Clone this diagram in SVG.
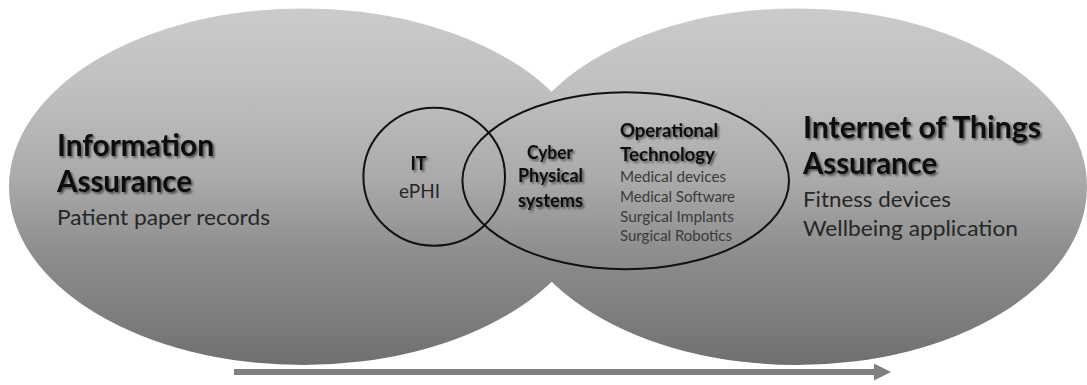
<svg xmlns="http://www.w3.org/2000/svg" width="1087" height="385" viewBox="0 0 1087 385">
  <defs>
    <linearGradient id="grayGrad" x1="0" y1="0" x2="0" y2="1">
      <stop offset="0" stop-color="#cbcbcb"/>
      <stop offset="0.22" stop-color="#c0c0c0"/>
      <stop offset="0.48" stop-color="#aaaaaa"/>
      <stop offset="0.68" stop-color="#8e8e8e"/>
      <stop offset="0.9" stop-color="#7a7a7a"/>
      <stop offset="1" stop-color="#6f6f6f"/>
    </linearGradient>
    <filter id="shadow" x="-10%" y="-30%" width="125%" height="170%">
      <feDropShadow dx="1.8" dy="1.8" stdDeviation="1.2" flood-color="#000000" flood-opacity="0.55"/>
    </filter>
    <marker id="arrowHead" markerUnits="userSpaceOnUse" markerWidth="18" markerHeight="18" refX="1" refY="8.5" orient="auto">
      <path d="M0,0 L17,8.5 L0,17 Z" fill="#808080"/>
    </marker>
  </defs>
  <style>
    .big { fill: url(#grayGrad); stroke: none; }
    .ring { fill: none; stroke: #111111; stroke-width: 2; }
    .t { font-family: Lato, "Liberation Sans", sans-serif; }
    .h1 { font-size: 29.5px; font-weight: bold; fill: #0d0d0d; filter: url(#shadow); }
    .p1 { font-size: 22px; fill: #262626; }
    .h2 { font-size: 18.4px; font-weight: bold; fill: #0d0d0d; filter: url(#shadow); }
    .p2 { font-size: 19.6px; fill: #262626; }
    .p3 { font-size: 14.8px; fill: #3a3a3a; }
    .hit { font-size: 19.6px; font-weight: bold; fill: #0d0d0d; filter: url(#shadow); }
  </style>

  <g id="information-assurance">
    <ellipse class="big" cx="303" cy="186.7" rx="294" ry="178.3"/>
  </g>
  <g id="iot-assurance">
    <ellipse class="big" cx="797" cy="186.7" rx="290" ry="178.3"/>
  </g>

  <g id="ia-text" class="t">
    <text class="h1" x="57" y="156" textLength="157" lengthAdjust="spacingAndGlyphs">Information</text>
    <text class="h1" x="57" y="192" textLength="135" lengthAdjust="spacingAndGlyphs">Assurance</text>
    <text class="p1" x="57" y="225" textLength="213" lengthAdjust="spacingAndGlyphs">Patient paper records</text>
  </g>

  <g id="iot-text" class="t">
    <text class="h1" x="803" y="137.5" textLength="238" lengthAdjust="spacingAndGlyphs">Internet of Things</text>
    <text class="h1" x="803" y="174" textLength="134" lengthAdjust="spacingAndGlyphs">Assurance</text>
    <text class="p1" x="803" y="207" textLength="148" lengthAdjust="spacingAndGlyphs">Fitness devices</text>
    <text class="p1" x="803" y="236" textLength="215" lengthAdjust="spacingAndGlyphs">Wellbeing application</text>
  </g>

  <g id="it">
    <ellipse class="ring" cx="434.2" cy="176.7" rx="70.8" ry="69"/>
    <text class="t hit" x="410.5" y="170" textLength="16" lengthAdjust="spacingAndGlyphs">IT</text>
    <text class="t p2" x="399" y="198.3" textLength="41" lengthAdjust="spacingAndGlyphs">ePHI</text>
  </g>

  <g id="operational-technology">
    <ellipse class="ring" cx="625.7" cy="180.8" rx="163.3" ry="88.5"/>
    <text class="t h2" x="620" y="137.3" textLength="98" lengthAdjust="spacingAndGlyphs">Operational</text>
    <text class="t h2" x="620" y="161" textLength="95" lengthAdjust="spacingAndGlyphs">Technology</text>
    <text class="t p3" x="620" y="181.7" textLength="106" lengthAdjust="spacingAndGlyphs">Medical devices</text>
    <text class="t p3" x="620" y="201.7" textLength="115" lengthAdjust="spacingAndGlyphs">Medical Software</text>
    <text class="t p3" x="620" y="221.7" textLength="114" lengthAdjust="spacingAndGlyphs">Surgical Implants</text>
    <text class="t p3" x="620" y="241" textLength="112" lengthAdjust="spacingAndGlyphs">Surgical Robotics</text>
  </g>

  <g id="cyber-physical-systems" class="t">
    <text class="h2" x="527" y="159" textLength="46" lengthAdjust="spacingAndGlyphs">Cyber</text>
    <text class="h2" x="518" y="181.7" textLength="65" lengthAdjust="spacingAndGlyphs">Physical</text>
    <text class="h2" x="518" y="206.7" textLength="65" lengthAdjust="spacingAndGlyphs">systems</text>
  </g>

  <g id="connectors">
    <line x1="234" y1="372" x2="875" y2="372" stroke="#808080" stroke-width="6" marker-end="url(#arrowHead)"/>
  </g>
</svg>
